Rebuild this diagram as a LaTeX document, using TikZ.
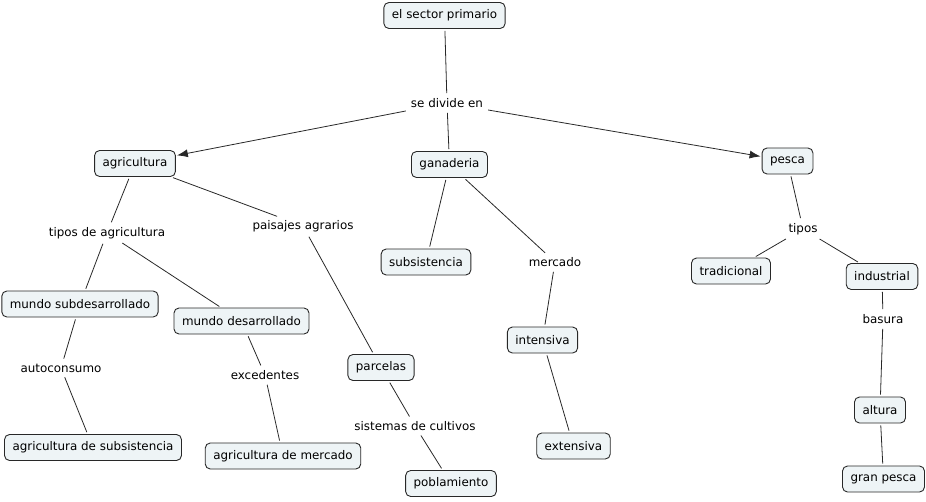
\documentclass[tikz,border=0pt]{standalone}
\usepackage{fontspec}
\setmainfont{DejaVu Sans}
\usetikzlibrary{arrows.meta}
\definecolor{boxfill}{RGB}{238,244,246}
\definecolor{boxline}{RGB}{40,40,40}
\tikzset{
  concept/.style={draw=boxline, fill=boxfill, rounded corners=5pt, line width=0.9pt,
    minimum height=26pt, inner xsep=8pt, inner ysep=0pt, font=\fontsize{11.9}{13}\selectfont},
  lbl/.style={inner sep=3pt, font=\fontsize{11.9}{13}\selectfont},
  link/.style={draw=boxline, line width=0.8pt, shorten <=2pt, shorten >=2pt},
  arr/.style={link, -{Latex[length=11pt,width=8pt]}, shorten >=1pt},
}
\begin{document}
\begin{tikzpicture}[x=1pt,y=-1pt]
\useasboundingbox (0,0) rectangle (926,501);
% concepts
\node[concept] (esp) at (444.5,15.5) {el sector primario};
\node[concept] (agr) at (135,163.5) {agricultura};
\node[concept] (gan) at (449.5,164.5) {ganaderia};
\node[concept] (pes) at (787.5,161) {pesca};
\node[concept] (sub) at (426,262) {subsistencia};
\node[concept] (tra) at (731,271) {tradicional};
\node[concept] (ind) at (882,276.5) {industrial};
\node[concept] (msd) at (80,304) {mundo subdesarrollado};
\node[concept] (mde) at (241.5,321) {mundo desarrollado};
\node[concept] (int) at (542.5,340) {intensiva};
\node[concept] (par) at (381,367.5) {parcelas};
\node[concept] (alt) at (880,410) {altura};
\node[concept] (ads) at (93,447.5) {agricultura de subsistencia};
\node[concept] (adm) at (283,456) {agricultura de mercado};
\node[concept] (ext) at (573.5,446) {extensiva};
\node[concept] (pob) at (451,483.5) {poblamiento};
\node[concept] (gpe) at (883.5,479) {gran pesca};
% link labels
\node[lbl] (sde) at (447,103) {se divide en};
\node[lbl] (tda) at (107,233) {tipos de agricultura};
\node[lbl] (paa) at (303,226) {paisajes agrarios};
\node[lbl] (mer) at (555,262) {mercado};
\node[lbl] (tip) at (803,229) {tipos};
\node[lbl] (bas) at (883,319) {basura};
\node[lbl] (aut) at (61,368) {autoconsumo};
\node[lbl] (exc) at (265,375) {excedentes};
\node[lbl] (sdc) at (415,426) {sistemas de cultivos};
% connectors
\draw[link] (esp) -- (sde);
\draw[arr] (sde) -- (agr);
\draw[link] (sde) -- (gan);
\draw[arr] (sde) -- (pes);
\draw[link] (agr) -- (tda);
\draw[link] (tda) -- (msd);
\draw[link] (tda) -- (mde);
\draw[link] (agr) -- (paa);
\draw[link] (paa) -- (par);
\draw[link] (gan) -- (sub);
\draw[link] (gan) -- (mer);
\draw[link] (mer) -- (int);
\draw[link] (int) -- (ext);
\draw[link] (pes) -- (tip);
\draw[link] (tip) -- (tra);
\draw[link] (tip) -- (ind);
\draw[link] (ind) -- (bas);
\draw[link] (bas) -- (alt);
\draw[link] (alt) -- (gpe);
\draw[link] (msd) -- (aut);
\draw[link] (aut) -- (ads);
\draw[link] (mde) -- (exc);
\draw[link] (exc) -- (adm);
\draw[link] (par) -- (sdc);
\draw[link] (sdc) -- (pob);
\end{tikzpicture}
\end{document}
